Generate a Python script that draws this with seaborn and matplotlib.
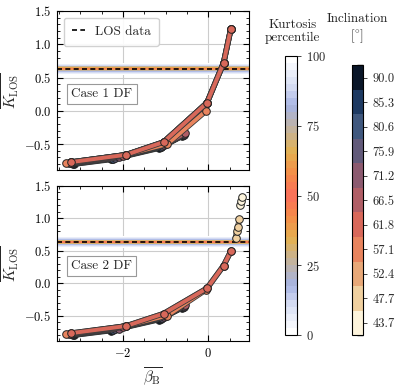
import numpy as np
import matplotlib
matplotlib.use("Agg")
import matplotlib.pyplot as plt
import matplotlib.patheffects as pe
from matplotlib.colors import LinearSegmentedColormap, ListedColormap, BoundaryNorm, Normalize
from matplotlib.cm import ScalarMappable
import seaborn as sns

# ---------------- data ----------------
inclinations = [43.7, 47.7, 52.4, 57.1, 61.8, 66.5, 71.2, 75.9, 80.6, 85.3, 90.0]
incl_colors = ["#fdf4dc", "#f0d0a0", "#e8a878", "#e8845e", "#d8685a", "#b05e66",
               "#8c5a70", "#625a7a", "#40587e", "#1e3a62", "#0a1628"]

los_kurtosis = 0.635
band_pct = [0, 5, 10, 15, 20, 25, 30, 35, 40, 45]
band_lo = [0.545, 0.56, 0.575, 0.588, 0.596, 0.603, 0.608, 0.613, 0.618, 0.624]
band_hi = [0.72, 0.705, 0.69, 0.68, 0.672, 0.666, 0.661, 0.656, 0.65, 0.645]

# Case 1 DF (one list per inclination, same order as `inclinations`)
case1_beta = [
    [-3.22, -1.93, -1.05, -0.03, 0.36, 0.53],
    [-3.22, -1.93, -1.05, -0.03, 0.36, 0.53],
    [-3.22, -1.93, -1.05, -0.03, 0.36, 0.53],
    [-3.34, -1.93, -0.96, -0.05],
    [-3.22, -1.93, -1.05, -0.03, 0.36, 0.53],
    [-3.28, -2.00, -1.00, -0.55],
    [-3.22, -2.10, -1.05, -0.57],
    [-3.20, -2.20, -1.08, -0.58],
    [-3.18, -2.24, -1.10, -0.59],
    [-3.17, -2.26, -1.12, -0.60],
    [-3.15, -2.28, -1.15, -0.62],
]
case1_k = [
    [-0.77, -0.66, -0.47, 0.12, 0.72, 1.23],
    [-0.77, -0.66, -0.47, 0.12, 0.72, 1.23],
    [-0.77, -0.66, -0.47, 0.12, 0.72, 1.23],
    [-0.79, -0.66, -0.50, 0.00],
    [-0.77, -0.66, -0.47, 0.12, 0.72, 1.23],
    [-0.79, -0.68, -0.50, -0.34],
    [-0.79, -0.70, -0.52, -0.35],
    [-0.79, -0.71, -0.53, -0.36],
    [-0.79, -0.72, -0.54, -0.37],
    [-0.80, -0.72, -0.55, -0.37],
    [-0.80, -0.73, -0.56, -0.38],
]

# Case 2 DF
case2_beta = [
    [0.75, 0.78, 0.80],
    [0.64, 0.67, 0.69, 0.73],
    [-3.22, -1.93, -1.05, -0.03, 0.36, 0.53],
    [-3.34, -1.93, -0.96, -0.05],
    [-3.22, -1.93, -1.05, -0.03, 0.36, 0.53],
    [-3.28, -2.00, -1.00, -0.55],
    [-3.22, -2.10, -1.05, -0.57],
    [-3.20, -2.20, -1.08, -0.58],
    [-3.18, -2.24, -1.10, -0.59],
    [-3.17, -2.26, -1.12, -0.60],
    [-3.15, -2.28, -1.15, -0.62],
]
case2_k = [
    [1.21, 1.27, 1.33],
    [0.70, 0.80, 0.86, 0.98],
    [-0.77, -0.66, -0.47, -0.08, 0.27, 0.49],
    [-0.79, -0.66, -0.50, -0.10],
    [-0.77, -0.66, -0.47, -0.08, 0.27, 0.49],
    [-0.79, -0.68, -0.50, -0.34],
    [-0.79, -0.70, -0.52, -0.35],
    [-0.79, -0.71, -0.53, -0.36],
    [-0.79, -0.72, -0.54, -0.37],
    [-0.80, -0.72, -0.55, -0.37],
    [-0.80, -0.73, -0.56, -0.38],
]
case_labels = ["Case 1 DF", "Case 2 DF"]
# drawing order (first drawn lowest)
draw_order = [0, 1, 2, 10, 9, 8, 7, 6, 5, 3, 4]

kurt_ticks = [0, 25, 50, 75, 100]

# ---------------- style ----------------
sns.set_theme(style="ticks")
plt.rcParams.update({
    "font.family": "serif",
    "font.serif": ["cmr10", "DejaVu Serif"],
    "mathtext.fontset": "cm",
    "axes.formatter.use_mathtext": True,
    "axes.unicode_minus": True,
    "font.size": 9.5,
    "xtick.direction": "in",
    "ytick.direction": "in",
    "xtick.top": True,
    "ytick.right": True,
    "axes.edgecolor": "black",
    "axes.linewidth": 0.8,
    "legend.fontsize": 9.5,
})

fig = plt.figure(figsize=(3.97, 3.91), dpi=100)
ax1 = fig.add_axes([0.1436, 0.565, 0.484, 0.407])
ax2 = fig.add_axes([0.1436, 0.128, 0.484, 0.397], sharex=ax1, sharey=ax1)

kcmap = LinearSegmentedColormap.from_list(
    "kurt",
    [(0.0, "#ffffff"), (0.1, "#d6ddf3"), (0.17, "#a6b4e4"), (0.26, "#c4b39a"),
     (0.34, "#e4b150"), (0.42, "#f58c48"), (0.5, "#fb6e5c"),
     (0.58, "#f58c48"), (0.66, "#e4b150"), (0.74, "#c4b39a"), (0.83, "#a6b4e4"),
     (0.9, "#d6ddf3"), (1.0, "#ffffff")], N=40)

stroke = [pe.Stroke(linewidth=4.0, foreground="#3a3a3a"), pe.Normal()]

for n, (ax, bet, kk, lab) in enumerate([(ax1, case1_beta, case1_k, case_labels[0]),
                                        (ax2, case2_beta, case2_k, case_labels[1])]):
    ax.grid(True, color="#cccccc", lw=0.8, zorder=0)
    for p, lo, hi in zip(band_pct, band_lo, band_hi):
        ax.axhspan(lo, hi, color=kcmap(p / 100), lw=0, zorder=1)
    ax.axhline(los_kurtosis, color="black", ls="--", lw=1.2, zorder=2,
               label="LOS data" if n == 0 else None, dashes=(3, 2))
    for z, i in enumerate(draw_order):
        sns.lineplot(x=bet[i], y=kk[i], ax=ax, color=incl_colors[i], lw=2.8,
                     sort=False, zorder=3 + 2 * z, path_effects=stroke, legend=False)
        sns.scatterplot(x=bet[i], y=kk[i], ax=ax, color=incl_colors[i], s=30,
                        edgecolor="#222222", linewidth=0.7, zorder=4 + 2 * z, legend=False)
    ax.set_xlim(-3.55, 0.96)
    ax.set_ylim(-0.89, 1.5)
    ax.xaxis.set_major_locator(plt.MultipleLocator(2))
    ax.xaxis.set_minor_locator(plt.MultipleLocator(0.5))
    ax.yaxis.set_major_locator(plt.MultipleLocator(0.5))
    ax.yaxis.set_minor_locator(plt.MultipleLocator(0.1))
    ax.tick_params(which="both", direction="in", top=True, right=True, colors="black",
                   labelsize=9)
    ax.tick_params(which="major", length=4, width=0.8, pad=4)
    ax.tick_params(which="minor", length=2, width=0.6)
    ax.set_ylabel(r"$\overline{K_{\rm LOS}}$", fontsize=11)
    ax.yaxis.set_label_coords(-0.19, 0.5)
    ax.text(0.075, 0.48, lab, transform=ax.transAxes, va="center", ha="left", fontsize=9.5,
            bbox=dict(boxstyle="square,pad=0.3", fc="white", ec="#999999", lw=0.8), zorder=50)
    if ax.get_legend() is not None:
        ax.get_legend().remove()

leg = ax1.legend(loc="upper left", fontsize=9.5, frameon=True, fancybox=True, framealpha=0.9,
                 edgecolor="#cccccc", handlelength=1.0, borderpad=0.6)
leg.set_zorder(60)
plt.setp(ax1.get_xticklabels(), visible=False)
ax1.set_xlabel("")
ax2.set_xlabel(r"$\overline{\beta_{\rm B}}$", fontsize=11)

# kurtosis colorbar
cax1 = fig.add_axes([0.718, 0.143, 0.030, 0.714])
cb1 = fig.colorbar(ScalarMappable(norm=Normalize(0, 100), cmap=kcmap), cax=cax1)
cb1.set_ticks(kurt_ticks)
cb1.ax.tick_params(direction="out", length=3, width=0.6, labelsize=9)
cb1.outline.set_linewidth(0.8)
fig.text(0.737, 0.92, "Kurtosis\npercentile", ha="center", va="center", fontsize=9.5, linespacing=1.1)

# inclination colorbar
cax2 = fig.add_axes([0.887, 0.143, 0.028, 0.690])
icmap = ListedColormap(incl_colors)
bounds = np.arange(len(inclinations) + 1)
cb2 = fig.colorbar(ScalarMappable(norm=BoundaryNorm(bounds, icmap.N), cmap=icmap), cax=cax2)
cb2.set_ticks(np.arange(len(inclinations)) + 0.5)
cb2.set_ticklabels([f"{v:.1f}" for v in inclinations])
cb2.ax.tick_params(direction="out", length=3, width=0.6, labelsize=9)
cb2.outline.set_linewidth(0.8)
fig.text(0.9, 0.925, "Inclination\n[$^{\\circ}$]", ha="center", va="center", fontsize=9.5, linespacing=1.2)

fig.savefig("out.png", dpi=100)
